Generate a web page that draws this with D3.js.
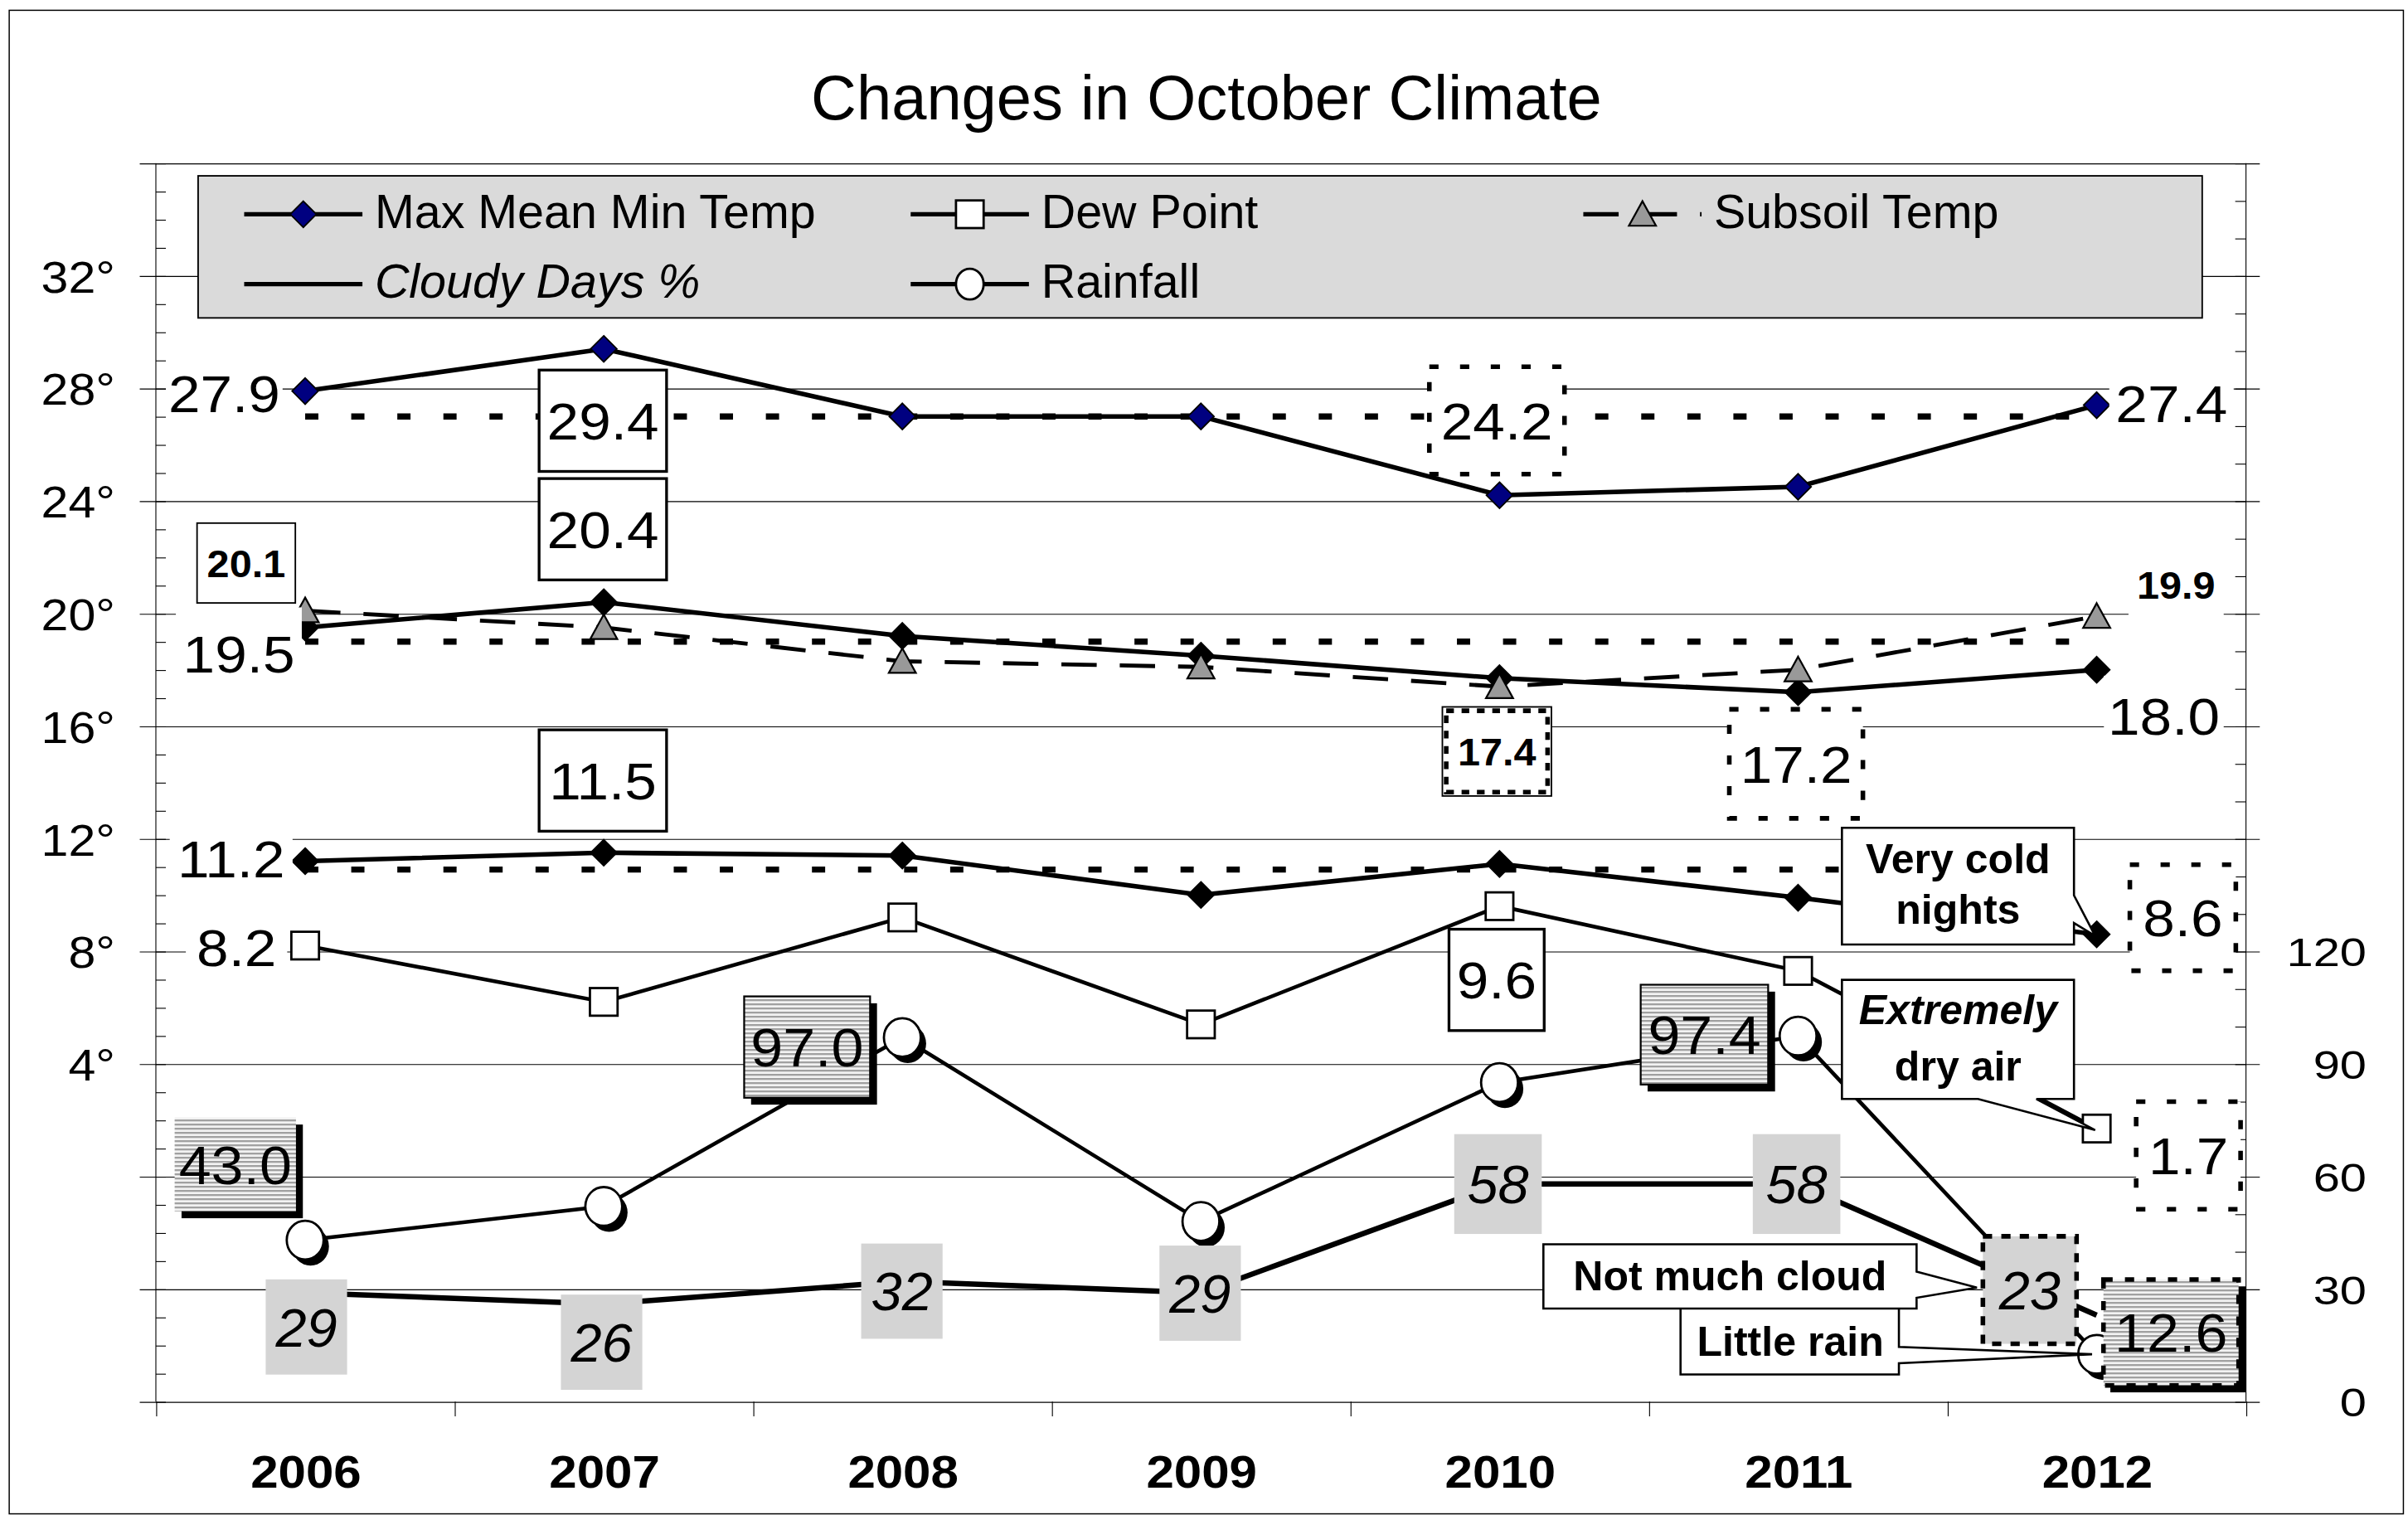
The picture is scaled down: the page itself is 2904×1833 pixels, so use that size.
<!DOCTYPE html>
<html>
<head>
<meta charset="utf-8">
<script src="https://d3js.org/d3.v7.min.js"></script>
<style>
  html, body { margin: 0; padding: 0; background: #fff; }
  svg { display: block; }
</style>
</head>
<body>
<div id="chart"></div>
<script>
// ---- data ----
const years = [2006, 2007, 2008, 2009, 2010, 2011, 2012];
const maxTemp = [27.9, 29.4, 27.0, 27.0, 24.2, 24.5, 27.4];
const meanTemp = [19.5, 20.4, 19.2, 18.5, 17.7, 17.2, 18.0];
const minTemp = [11.2, 11.5, 11.4, 10.0, 11.1, 9.9, 8.6];
const dewPoint = [8.2, 6.2, 9.2, 5.4, 9.6, 7.3, 1.7];
const subsoilTemp = [20.1, 19.5, 18.3, 18.1, 17.4, 18.0, 19.9];
const rainfall = [43.0, 52, 97.0, 48, 85, 97.4, 12.6];
const cloudyDays = [29, 26, 32, 29, 58, 58, 23];
const averages = [27.0, 19.0, 10.9]; // dotted reference lines for max, mean, min
const leftTicks = [4, 8, 12, 16, 20, 24, 28, 32];
const rightTicks = [0, 30, 60, 90, 120];

const FONT = "'Liberation Sans', Arial, Helvetica, sans-serif";
const W = 1568, H = 989.72;

const svg = d3.select("#chart").append("svg")
    .attr("width", 2904)
    .attr("height", 1833)
    .attr("viewBox", `0 0 ${W} ${H}`);

svg.append("rect").attr("width", W).attr("height", H).attr("fill", "#fff");
svg.append("rect")
    .attr("x", 6).attr("y", 6.7).attr("width", 1559).attr("height", 979)
    .attr("fill", "none").attr("stroke", "#000").attr("stroke-width", 0.8);

const defs = svg.append("defs");
const hatch = defs.append("pattern")
    .attr("id", "hatch")
    .attr("patternUnits", "userSpaceOnUse")
    .attr("width", 6).attr("height", 2.7);
hatch.append("rect").attr("width", 6).attr("height", 2.7).attr("fill", "#f2f2f2");
hatch.append("rect").attr("y", 0).attr("width", 6).attr("height", 1.08).attr("fill", "#9a9a9a");

function addText(parent, x, y, str, o) {
    return parent.append("text")
        .attr("transform", `translate(${x},${y}) scale(${o.sx || 1},1)`)
        .attr("text-anchor", o.anchor || "middle")
        .attr("font-family", FONT)
        .attr("font-size", o.size)
        .attr("font-weight", o.weight || "normal")
        .attr("font-style", o.style || "normal")
        .attr("fill", "#000")
        .text(str);
}

// title
addText(svg, 785.6, 78, "Changes in October Climate", { size: 41 });

// ---- scales ----
const plot = { left: 101.5, right: 1462.5, top: 106.2, bottom: 912.6 };
const x = d3.scalePoint().domain(years).range([plot.left, plot.right]).padding(0.5);
const xb = d3.scaleLinear().domain([0, years.length]).range([plot.left, plot.right]);
const yL = d3.scaleLinear().domain([-8, 36]).range([plot.bottom, plot.top]);
const yR = d3.scaleLinear().domain([0, 330]).range([plot.bottom, plot.top]);

// gridlines (with the major ticks sticking out both sides)
svg.append("g")
    .attr("transform", `translate(${plot.left - 10.5},0)`)
    .call(d3.axisRight(yL).tickValues(d3.range(-8, 37, 4)).tickSize(plot.right - plot.left + 19.5).tickFormat(""))
    .call(g => g.select(".domain").remove())
    .selectAll("line").attr("stroke", "#000").attr("stroke-width", 0.6);

// minor ticks
svg.append("g")
    .attr("transform", `translate(${plot.left},0)`)
    .call(d3.axisRight(yL).tickValues(d3.range(-8, 37, 1)).tickSize(6.5).tickFormat(""))
    .call(g => g.select(".domain").remove())
    .selectAll("line").attr("stroke", "#000").attr("stroke-width", 0.6);
svg.append("g")
    .attr("transform", `translate(${plot.right},0)`)
    .call(d3.axisLeft(yR).tickValues(d3.range(0, 331, 10)).tickSize(7).tickFormat(""))
    .call(g => g.select(".domain").remove())
    .selectAll("line").attr("stroke", "#000").attr("stroke-width", 0.6);

// axis lines
[plot.left, plot.right].forEach(px => {
    svg.append("line")
        .attr("x1", px).attr("x2", px).attr("y1", plot.top).attr("y2", plot.bottom)
        .attr("stroke", "#000").attr("stroke-width", 0.6);
});

// category boundary ticks
svg.append("g")
    .attr("transform", `translate(0,${plot.bottom})`)
    .call(d3.axisBottom(xb).tickValues(d3.range(0, years.length + 1)).tickSize(9.6).tickFormat(""))
    .call(g => g.select(".domain").remove())
    .selectAll("line").attr("stroke", "#000").attr("stroke-width", 0.6);

// year labels
svg.append("g")
    .attr("transform", `translate(0,${plot.bottom})`)
    .call(d3.axisBottom(x).tickSize(0).tickPadding(0))
    .call(g => g.select(".domain").remove())
    .selectAll("text")
    .attr("font-family", FONT).attr("font-size", 30).attr("font-weight", "bold")
    .attr("y", 56).attr("dy", 0).attr("fill", "#000")
    .attr("transform", "scale(1.08,1)");

// left labels
svg.append("g")
    .attr("transform", "translate(75,0)")
    .call(d3.axisLeft(yL).tickValues(leftTicks).tickFormat(d => d + "°").tickSize(0).tickPadding(0))
    .call(g => g.select(".domain").remove())
    .selectAll("text")
    .attr("font-family", FONT).attr("font-size", 29)
    .attr("x", 0).attr("dy", "0.36em").attr("fill", "#000")
    .attr("transform", "scale(1.1,1)");

// right labels
svg.append("g")
    .attr("transform", "translate(1541,0)")
    .call(d3.axisRight(yR).tickValues(rightTicks).tickSize(0).tickPadding(0))
    .call(g => g.select(".domain").remove())
    .selectAll("text")
    .attr("font-family", FONT).attr("font-size", 26)
    .attr("x", 0).attr("dy", "0.36em").attr("text-anchor", "end").attr("fill", "#000")
    .attr("transform", "scale(1.2,1)");

// ---- markers ----
function diamond(g, cx, cy, fill) {
    g.append("path")
        .attr("d", `M${cx},${cy - 8.5}L${cx + 8.5},${cy}L${cx},${cy + 8.5}L${cx - 8.5},${cy}Z`)
        .attr("fill", fill).attr("stroke", "#000").attr("stroke-width", 1);
}
function square(g, cx, cy) {
    g.append("rect")
        .attr("x", cx - 9).attr("y", cy - 9).attr("width", 18).attr("height", 18)
        .attr("fill", "#fff").attr("stroke", "#000").attr("stroke-width", 1.5);
}
function triangle(g, cx, cy) {
    g.append("path")
        .attr("d", `M${cx},${cy - 8.5}L${cx + 8.8},${cy + 7.5}L${cx - 8.8},${cy + 7.5}Z`)
        .attr("fill", "#999").attr("stroke", "#000").attr("stroke-width", 1.2);
}
function circle(g, cx, cy, shadow) {
    if (shadow) {
        g.append("ellipse").attr("cx", cx + 3.5).attr("cy", cy + 4).attr("rx", 12).attr("ry", 12.6).attr("fill", "#000");
    }
    g.append("ellipse").attr("cx", cx).attr("cy", cy).attr("rx", shadow ? 12 : 9).attr("ry", shadow ? 12.6 : 10)
        .attr("fill", "#fff").attr("stroke", "#000").attr("stroke-width", 1.5);
}

// ---- legend ----
const legend = svg.append("g");
legend.append("rect")
    .attr("x", 129).attr("y", 114.5).attr("width", 1305).attr("height", 92.5)
    .attr("fill", "#dadada").attr("stroke", "#000").attr("stroke-width", 1);
const legendItems = [
    { name: "Max Mean Min Temp", x0: 159, row: 0, marker: "diamond" },
    { name: "Dew Point", x0: 593, row: 0, marker: "square" },
    { name: "Subsoil Temp", x0: 1031, row: 0, marker: "triangle", dash: "23,15" },
    { name: "Cloudy Days %", x0: 159, row: 1, marker: null, italic: true },
    { name: "Rainfall", x0: 593, row: 1, marker: "circle" }
];
const legendRows = [139.5, 185];
legendItems.forEach(it => {
    const ly = legendRows[it.row];
    legend.append("line")
        .attr("x1", it.x0).attr("x2", it.x0 + 77).attr("y1", ly).attr("y2", ly)
        .attr("stroke", "#000").attr("stroke-width", 2.8)
        .attr("stroke-dasharray", it.dash || null);
    const mx = it.x0 + 38.5;
    if (it.marker === "diamond") diamond(legend, mx, ly, "#000080");
    if (it.marker === "square") square(legend, mx, ly);
    if (it.marker === "triangle") triangle(legend, mx, ly);
    if (it.marker === "circle") circle(legend, mx, ly, false);
    addText(legend, it.x0 + 85, ly + 9, it.name, { size: 31, anchor: "start", style: it.italic ? "italic" : "normal" });
});

// ---- series ----
const series = svg.append("g");
const lineOf = (scale) => d3.line().x((d, i) => x(years[i])).y(d => scale(d));

// dotted reference lines
averages.forEach(v => {
    series.append("line")
        .attr("x1", x(years[0])).attr("x2", x(years[years.length - 1]))
        .attr("y1", yL(v)).attr("y2", yL(v))
        .attr("stroke", "#000").attr("stroke-width", 4).attr("stroke-dasharray", "8.6,21.4");
});

series.append("path").attr("d", lineOf(yR)(cloudyDays))
    .attr("fill", "none").attr("stroke", "#000").attr("stroke-width", 3.5);
series.append("path").attr("d", lineOf(yR)(rainfall))
    .attr("fill", "none").attr("stroke", "#000").attr("stroke-width", 2.5);
series.append("path").attr("d", lineOf(yL)(dewPoint))
    .attr("fill", "none").attr("stroke", "#000").attr("stroke-width", 2.5);
series.append("path").attr("d", lineOf(yL)(subsoilTemp))
    .attr("fill", "none").attr("stroke", "#000").attr("stroke-width", 2.6).attr("stroke-dasharray", "23,15");
[minTemp, meanTemp, maxTemp].forEach(arr => {
    series.append("path").attr("d", lineOf(yL)(arr))
        .attr("fill", "none").attr("stroke", "#000").attr("stroke-width", 3);
});

const marks = svg.append("g");
rainfall.forEach((v, i) => circle(marks, x(years[i]), yR(v), true));
dewPoint.forEach((v, i) => square(marks, x(years[i]), yL(v)));
minTemp.forEach((v, i) => diamond(marks, x(years[i]), yL(v), "#000"));
meanTemp.forEach((v, i) => diamond(marks, x(years[i]), yL(v), "#000"));
subsoilTemp.forEach((v, i) => triangle(marks, x(years[i]), yL(v)));
maxTemp.forEach((v, i) => diamond(marks, x(years[i]), yL(v), "#000080"));

// ---- data labels ----
const boxStyles = {
    plain: { fill: "#fff" },
    solid: { fill: "#fff", stroke: "#000", sw: 1.8 },
    thin: { fill: "#fff", stroke: "#000", sw: 1 },
    dotted: { fill: "#fff", stroke: "#000", sw: 3, dash: "6,14" },
    double: { fill: "#fff", stroke: "#000", sw: 1, inner: true },
    hatch: { fill: "url(#hatch)", stroke: "#000", sw: 1.2, shadow: true },
    hatchBare: { fill: "url(#hatch)", shadow: true },
    hatchDashed: { fill: "url(#hatch)", stroke: "#000", sw: 3, dash: "6,8", shadow: true },
    gray: { fill: "#d4d4d4" },
    grayDashed: { fill: "#d4d4d4", stroke: "#000", sw: 3, dash: "6,6" }
};
const fonts = {
    big: { size: 34, sx: 1.1 },
    bold: { size: 25, weight: "bold", sx: 1.05 },
    rain: { size: 35, sx: 1.08 },
    cloud: { size: 35, style: "italic", sx: 1.03 }
};
const labelSpecs = [
    { data: maxTemp, y: yL, i: 0, dx: -52.7, dy: 1.3, w: 76, h: 56, box: "plain", font: "big" },
    { data: maxTemp, y: yL, i: 1, dx: -0.6, dy: 46.8, w: 83, h: 66, box: "solid", font: "big" },
    { data: maxTemp, y: yL, i: 4, dx: -1.7, dy: -48.7, w: 88, h: 70, box: "dotted", font: "big" },
    { data: maxTemp, y: yL, i: 6, dx: 48.7, dy: -1.4, w: 81, h: 56, box: "plain", font: "big" },
    { data: subsoilTemp, y: yL, i: 0, dx: -38.4, dy: -31, w: 64, h: 52, box: "thin", font: "bold" },
    { data: meanTemp, y: yL, i: 1, dx: -0.6, dy: -47.5, w: 83, h: 66, box: "solid", font: "big" },
    { data: meanTemp, y: yL, i: 0, dx: -43.2, dy: 16.9, w: 82, h: 60, box: "plain", font: "big" },
    { data: subsoilTemp, y: yL, i: 6, dx: 51.7, dy: -20.3, w: 62, h: 44, box: "plain", font: "bold" },
    { data: subsoilTemp, y: yL, i: 4, dx: -1.7, dy: 42.2, w: 71, h: 58, box: "double", font: "bold" },
    { data: meanTemp, y: yL, i: 5, dx: -1.3, dy: 46.6, w: 87, h: 71, box: "dotted", font: "big" },
    { data: meanTemp, y: yL, i: 6, dx: 43.7, dy: 29.9, w: 78, h: 52, box: "plain", font: "big" },
    { data: minTemp, y: yL, i: 1, dx: -0.6, dy: -47, w: 83, h: 66, box: "solid", font: "big" },
    { data: minTemp, y: yL, i: 0, dx: -48.2, dy: -1.9, w: 80, h: 56, box: "plain", font: "big" },
    { data: minTemp, y: yL, i: 6, dx: 56.1, dy: -10.8, w: 69, h: 69, box: "dotted", font: "big" },
    { data: dewPoint, y: yL, i: 4, dx: -1.9, dy: 48, w: 62, h: 66, box: "solid", font: "big" },
    { data: dewPoint, y: yL, i: 0, dx: -44.7, dy: 1, w: 66, h: 54, box: "plain", font: "big" },
    { data: dewPoint, y: yL, i: 6, dx: 59.7, dy: 17.5, w: 68, h: 70, box: "dotted", font: "big" },
    { data: rainfall, y: yR, i: 2, dx: -62, dy: 6.2, w: 82, h: 66, box: "hatch", font: "rain" },
    { data: rainfall, y: yR, i: 0, dx: -45.5, dy: -49.3, w: 79, h: 61, box: "hatchBare", font: "rain" },
    { data: rainfall, y: yR, i: 5, dx: -61, dy: -0.9, w: 83, h: 65, box: "hatch", font: "rain" },
    { data: rainfall, y: yR, i: 6, dx: 48.4, dy: -14.2, w: 88, h: 69, box: "hatchDashed", font: "rain" },
    { data: cloudyDays, y: yR, i: 0, dx: 0.8, dy: 22.3, w: 53, h: 62, box: "gray", font: "cloud", int: true },
    { data: cloudyDays, y: yR, i: 1, dx: -1.4, dy: 24.9, w: 53, h: 62, box: "gray", font: "cloud", int: true },
    { data: cloudyDays, y: yR, i: 2, dx: -0.3, dy: 6.3, w: 53, h: 62, box: "gray", font: "cloud", int: true },
    { data: cloudyDays, y: yR, i: 3, dx: -0.5, dy: 0.3, w: 53, h: 62, box: "gray", font: "cloud", int: true },
    { data: cloudyDays, y: yR, i: 4, dx: -1, dy: 0.1, w: 57, h: 65, box: "gray", font: "cloud", int: true },
    { data: cloudyDays, y: yR, i: 5, dx: -1, dy: 0.1, w: 57, h: 65, box: "gray", font: "cloud", int: true },
    { data: cloudyDays, y: yR, i: 6, dx: -43.6, dy: -16.4, w: 61, h: 70, box: "grayDashed", font: "cloud", int: true }
];

const labels = svg.append("g");
labelSpecs.forEach(s => {
    const v = s.data[s.i];
    const cx = x(years[s.i]) + s.dx;
    const cy = s.y(v) + s.dy;
    const st = boxStyles[s.box];
    const f = fonts[s.font];
    const g = labels.append("g");
    const x0 = cx - s.w / 2, y0 = cy - s.h / 2;
    if (st.shadow) {
        g.append("rect").attr("x", x0 + 4.5).attr("y", y0 + 4.5).attr("width", s.w).attr("height", s.h).attr("fill", "#000");
    }
    g.append("rect")
        .attr("x", x0).attr("y", y0).attr("width", s.w).attr("height", s.h)
        .attr("fill", st.fill)
        .attr("stroke", st.stroke || "none")
        .attr("stroke-width", st.sw || 0)
        .attr("stroke-dasharray", st.dash || null);
    if (st.inner) {
        g.append("rect")
            .attr("x", x0 + 2.5).attr("y", y0 + 2.5).attr("width", s.w - 5).attr("height", s.h - 5)
            .attr("fill", "none").attr("stroke", "#000").attr("stroke-width", 3).attr("stroke-dasharray", "5,5");
    }
    const str = s.int ? d3.format("d")(v) : d3.format(".1f")(v);
    addText(g, cx, cy + 0.36 * f.size, str, f);
});

// ---- callouts ----
const callouts = svg.append("g");
function calloutRight(box, a, b, tip) {
    const [x0, y0, x1, y1] = box;
    return `M${x0},${y0}H${x1}V${a}L${tip[0]},${tip[1]}L${x1},${b}V${y1}H${x0}Z`;
}
function calloutBottom(box, a, b, tip) {
    const [x0, y0, x1, y1] = box;
    return `M${x0},${y0}H${x1}V${y1}H${b}L${tip[0]},${tip[1]}L${a},${y1}H${x0}Z`;
}
const x2012 = x(years[6]);
const calloutSpecs = [
    {
        d: calloutRight([1094.3, 847, 1236.5, 895], 877, 887.7, [x2012 - 3, yR(rainfall[6])]),
        lines: [{ t: "Little rain", cx: 1165.8, by: 883 }]
    },
    {
        d: calloutRight([1005, 810.2, 1248, 852], 828, 845, [x2012 - 78, yR(cloudyDays[6]) - 18]),
        lines: [{ t: "Not much cloud", cx: 1126.5, by: 840 }]
    },
    {
        d: calloutRight([1199.4, 539, 1350.5, 615], 583, 601, [x2012 - 1, yL(minTemp[6]) + 1]),
        lines: [{ t: "Very cold", cx: 1275, by: 568.7 }, { t: "nights", cx: 1275, by: 601.7 }]
    },
    {
        d: calloutBottom([1199.4, 638, 1350.5, 715.6], 1288, 1326, [x2012 - 1, yL(dewPoint[6]) + 1]),
        lines: [{ t: "Extremely", cx: 1275, by: 667, italic: true }, { t: "dry air", cx: 1275, by: 703.5 }]
    }
];
calloutSpecs.forEach(c => {
    callouts.append("path").attr("d", c.d)
        .attr("fill", "#fff").attr("stroke", "#000").attr("stroke-width", 1.4)
        .attr("stroke-linejoin", "miter");
    c.lines.forEach(l => {
        addText(callouts, l.cx, l.by, l.t, { size: 26.5, weight: "bold", style: l.italic ? "italic" : "normal", sx: 1.02 });
    });
});
</script>
</body>
</html>
